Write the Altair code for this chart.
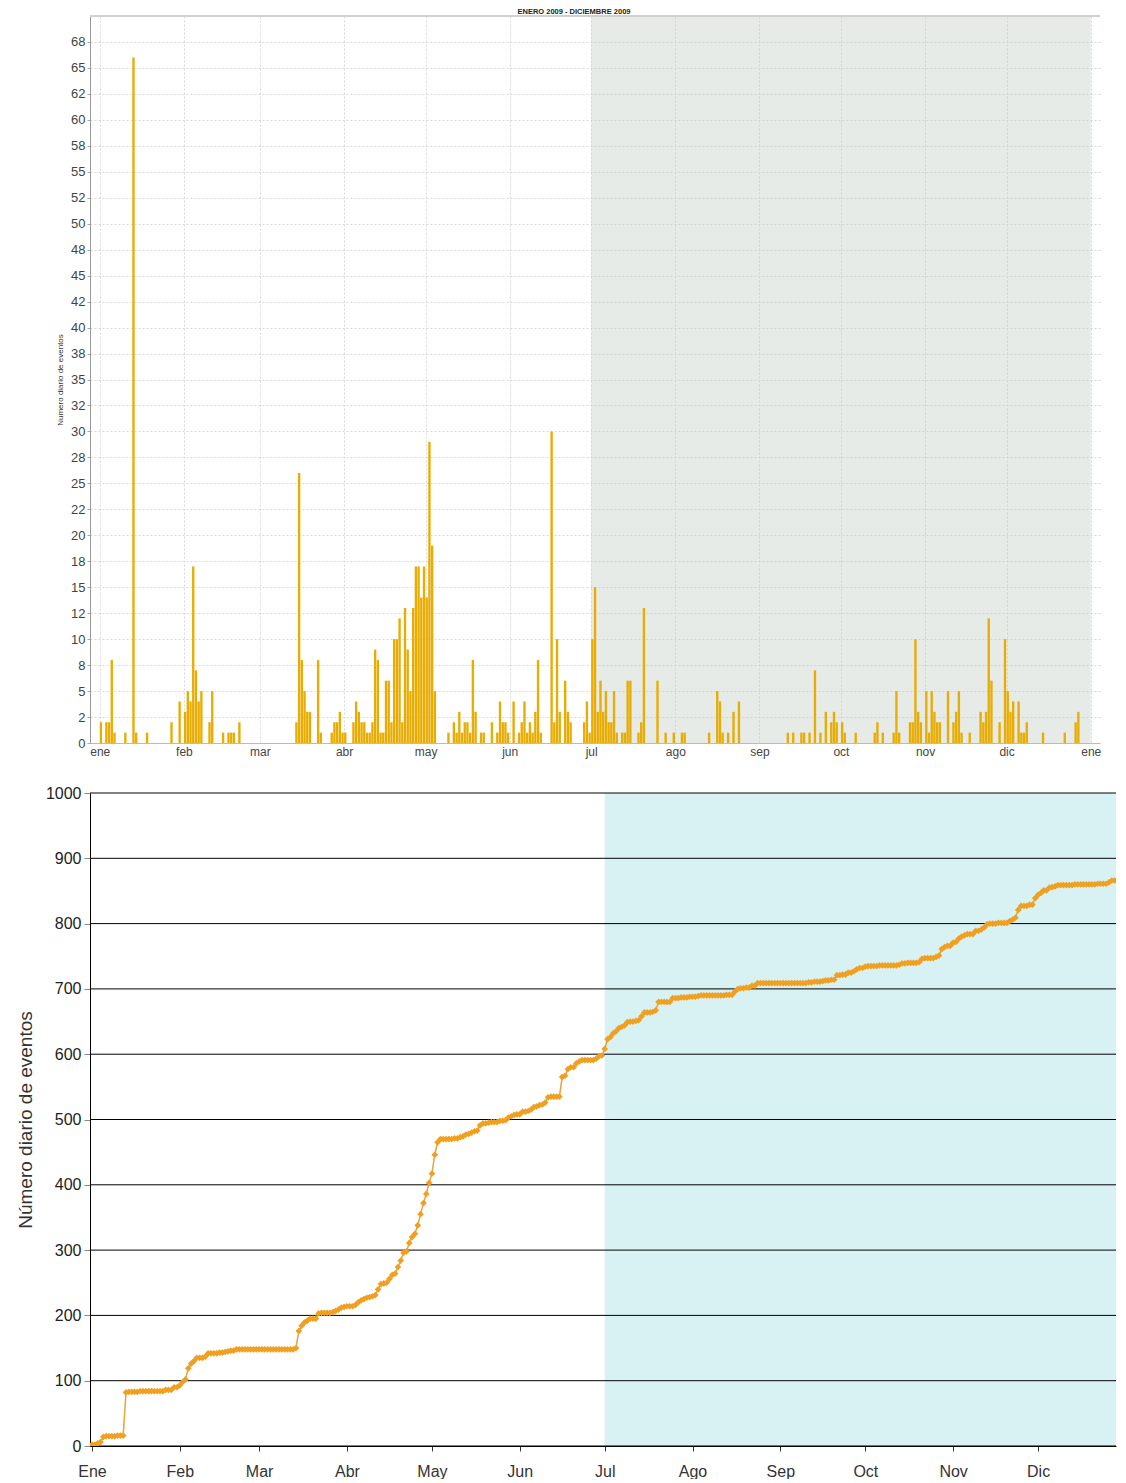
import altair as alt
import pandas as pd

# ---------------- data ----------------
event_dates = [
    "2009-01-01", "2009-01-03", "2009-01-04", "2009-01-05", "2009-01-06", "2009-01-10", "2009-01-13", "2009-01-14",
    "2009-01-18", "2009-01-27", "2009-01-30",
    "2009-02-01", "2009-02-02", "2009-02-03", "2009-02-04", "2009-02-05", "2009-02-06", "2009-02-07", "2009-02-10",
    "2009-02-11", "2009-02-15", "2009-02-17", "2009-02-18", "2009-02-19", "2009-02-21",
    "2009-03-14", "2009-03-15", "2009-03-16", "2009-03-17", "2009-03-18", "2009-03-19", "2009-03-22", "2009-03-23",
    "2009-03-27", "2009-03-28", "2009-03-29", "2009-03-30", "2009-03-31",
    "2009-04-01", "2009-04-04", "2009-04-05", "2009-04-06", "2009-04-07", "2009-04-08", "2009-04-09", "2009-04-10",
    "2009-04-11", "2009-04-12", "2009-04-13", "2009-04-14", "2009-04-15", "2009-04-16", "2009-04-17", "2009-04-18",
    "2009-04-19", "2009-04-20", "2009-04-21", "2009-04-22", "2009-04-23", "2009-04-24", "2009-04-25", "2009-04-26",
    "2009-04-27", "2009-04-28", "2009-04-29", "2009-04-30",
    "2009-05-01", "2009-05-02", "2009-05-03", "2009-05-04", "2009-05-09", "2009-05-11", "2009-05-12", "2009-05-13",
    "2009-05-14", "2009-05-15", "2009-05-16", "2009-05-17", "2009-05-18", "2009-05-19", "2009-05-21", "2009-05-22",
    "2009-05-25", "2009-05-27", "2009-05-28", "2009-05-29", "2009-05-30", "2009-05-31",
    "2009-06-02", "2009-06-04", "2009-06-05", "2009-06-06", "2009-06-07", "2009-06-08", "2009-06-09", "2009-06-10",
    "2009-06-11", "2009-06-12", "2009-06-16", "2009-06-17", "2009-06-18", "2009-06-19", "2009-06-21", "2009-06-22",
    "2009-06-23", "2009-06-28", "2009-06-29", "2009-06-30",
    "2009-07-01", "2009-07-02", "2009-07-03", "2009-07-04", "2009-07-05", "2009-07-06", "2009-07-07", "2009-07-08",
    "2009-07-09", "2009-07-10", "2009-07-12", "2009-07-13", "2009-07-14", "2009-07-15", "2009-07-18", "2009-07-19",
    "2009-07-20", "2009-07-25", "2009-07-28", "2009-07-31",
    "2009-08-03", "2009-08-04", "2009-08-13", "2009-08-16", "2009-08-17", "2009-08-18", "2009-08-20", "2009-08-22",
    "2009-08-24",
    "2009-09-11", "2009-09-13", "2009-09-16", "2009-09-17", "2009-09-19", "2009-09-21", "2009-09-23", "2009-09-25",
    "2009-09-27", "2009-09-28", "2009-09-29",
    "2009-10-01", "2009-10-02", "2009-10-06", "2009-10-13", "2009-10-14", "2009-10-16", "2009-10-20", "2009-10-21",
    "2009-10-22", "2009-10-26", "2009-10-27", "2009-10-28", "2009-10-29", "2009-10-30",
    "2009-11-01", "2009-11-02", "2009-11-03", "2009-11-04", "2009-11-05", "2009-11-06", "2009-11-09", "2009-11-11",
    "2009-11-12", "2009-11-13", "2009-11-14", "2009-11-17", "2009-11-21", "2009-11-22", "2009-11-23", "2009-11-24",
    "2009-11-25", "2009-11-28", "2009-11-30",
    "2009-12-01", "2009-12-02", "2009-12-03", "2009-12-05", "2009-12-06", "2009-12-07", "2009-12-08", "2009-12-14",
    "2009-12-22", "2009-12-26", "2009-12-27",
]
event_counts = [
    2, 2, 2, 8, 1, 1, 66, 1,
    1, 2, 4,
    3, 5, 4, 17, 7, 4, 5, 2,
    5, 1, 1, 1, 1, 2,
    2, 26, 8, 5, 3, 3, 8, 1,
    1, 2, 2, 3, 1,
    1, 2, 4, 3, 2, 2, 1, 1,
    2, 9, 8, 1, 1, 6, 6, 2,
    10, 10, 12, 2, 13, 9, 5, 13,
    17, 17, 14, 17,
    14, 29, 19, 5, 1, 2, 1, 3,
    1, 2, 2, 1, 8, 3, 1, 1,
    2, 1, 4, 2, 2, 1,
    4, 1, 2, 4, 1, 2, 1, 3,
    8, 1, 30, 2, 10, 3, 6, 3,
    2, 2, 4, 1,
    10, 15, 3, 6, 3, 5, 2, 2,
    5, 1, 1, 1, 6, 6, 1, 2,
    13, 6, 1, 1,
    1, 1, 1, 5, 4, 1, 1, 3,
    4,
    1, 1, 1, 1, 1, 7, 1, 3,
    2, 3, 2,
    2, 1, 1, 1, 2, 1, 1, 5,
    1, 2, 2, 10, 3, 2,
    5, 1, 5, 3, 2, 2, 5, 2,
    3, 5, 1, 1, 3, 2, 3, 12,
    6, 2, 10,
    5, 3, 4, 4, 1, 1, 2, 1,
    1, 2, 3,
]

month_labels_top = ["ene", "feb", "mar", "abr", "may", "jun", "jul", "ago", "sep", "oct", "nov", "dic"]
month_labels_bottom = ["Ene", "Feb", "Mar", "Abr", "May", "Jun", "Jul", "Ago", "Sep", "Oct", "Nov", "Dic"]
top_y_ticks = [0, 2.5, 5, 7.5, 10, 12.5, 15, 17.5, 20, 22.5, 25, 27.5, 30, 32.5, 35, 37.5, 40, 42.5, 45,
               47.5, 50, 52.5, 55, 57.5, 60, 62.5, 65, 67.5]
bottom_y_ticks = [0, 100, 200, 300, 400, 500, 600, 700, 800, 900, 1000]
shade_start = ["2009-07-01T00:00:00"]
shade_end = ["2010-01-01T00:00:00"]
title_text = ["ENERO 2009 - DICIEMBRE 2009"]
y_title = "Numero diario de eventos"
y_title_bottom = "Número diario de eventos"

FONT = "Arial"

# ---------------- tables ----------------
ev = pd.DataFrame({"d": pd.to_datetime(event_dates), "count": event_counts})
bars = ev.copy()
bars["start"] = bars["d"].dt.strftime("%Y-%m-%dT%H:%M:%S")
bars["end"] = (bars["d"] + pd.Timedelta(hours=21)).dt.strftime("%Y-%m-%dT%H:%M:%S")
bars = bars[["start", "end", "count"]]

days = pd.DataFrame({"d": pd.date_range("2009-01-01", "2009-12-31", freq="D")})
full = days.merge(ev, on="d", how="left").fillna({"count": 0})
full["date"] = full["d"].dt.strftime("%Y-%m-%dT%H:%M:%S")
full = full[["date", "count"]]

shade = pd.DataFrame({"s": shade_start, "e": shade_end})

# ---------------- top chart ----------------
W_TOP, H_TOP = 1010, 727
month_expr_top = "[" + ",".join("'%s'" % m for m in month_labels_top) + "][month(datum.value)]"
month_vals_top = [alt.DateTime(year=2009, month=m, date=1) for m in range(1, 13)] + [alt.DateTime(year=2010, month=1, date=1)]
x_scale_top = alt.Scale(domain=[alt.DateTime(year=2008, month=12, date=28, hours=10),
                                alt.DateTime(year=2010, month=1, date=4, hours=10)])

shade_top = alt.Chart(shade).mark_rect(color="#c9d3c9", opacity=0.45).encode(
    x=alt.X("s:T", scale=x_scale_top,
            axis=alt.Axis(values=month_vals_top, labelExpr=month_expr_top, title=None,
                          grid=True, gridDash=[2, 2], gridColor="#d8d8d8",
                          tickSize=0, labelPadding=3, labelFontSize=12, labelColor="#444",
                          labelFont=FONT, domainColor="#bbbbbb")),
    x2="e:T",
    y=alt.value(0), y2=alt.value(H_TOP),
)

bar_layer = alt.Chart(bars).mark_bar(color="#e8ad05", clip=True).encode(
    x=alt.X("start:T", scale=x_scale_top),
    x2="end:T",
    y=alt.Y("count:Q", scale=alt.Scale(domain=[0, 70], nice=False),
            axis=alt.Axis(values=top_y_ticks, title=y_title, titleFontSize=8, titleFontWeight="normal",
                          titleColor="#333", titleFont=FONT, titlePadding=6,
                          labelExpr="datum.value % 5 == 0 ? format(datum.value, 'd') : format(floor(datum.value) + (floor(datum.value) % 2), 'd')",
                          labelFontSize=13, labelColor="#444", labelFont=FONT, labelPadding=2,
                          tickSize=3, tickColor="#aaaaaa", domainColor="#999999",
                          grid=True, gridDash=[2, 2], gridColor="#d8d8d8")),
    y2=alt.datum(0),
)

top_border = alt.Chart(pd.DataFrame({"t": title_text})).mark_rule(color="#d0d0d0", strokeWidth=2).encode(
    x=alt.value(0), x2=alt.value(W_TOP), y=alt.value(0)
)
title_mark = alt.Chart(pd.DataFrame({"t": title_text})).mark_text(
    fontSize=7.5, fontWeight="bold", font=FONT, color="#222", baseline="bottom", align="center"
).encode(text="t:N", x=alt.value(484), y=alt.value(0))

top = alt.layer(shade_top, bar_layer, top_border, title_mark).properties(width=W_TOP, height=H_TOP)

# ---------------- bottom chart ----------------
W_BOT, H_BOT = 1026, 653
month_expr_bot = "[" + ",".join("'%s'" % m for m in month_labels_bottom) + "][month(datum.value)]"
month_vals_bot = [alt.DateTime(year=2009, month=m, date=1) for m in range(1, 13)]
x_scale_bot = alt.Scale(domain=[alt.DateTime(year=2008, month=12, date=31, hours=7),
                                alt.DateTime(year=2009, month=12, date=28, hours=12)])
y_scale_bot = alt.Scale(domain=[0, 1000], nice=False)

shade_bot = alt.Chart(shade).mark_rect(color="#d8f2f4", clip=True).encode(
    x=alt.X("s:T", scale=x_scale_bot,
            axis=alt.Axis(values=month_vals_bot, labelExpr=month_expr_bot, title=None, grid=False,
                          tickSize=5, tickColor="#333", labelPadding=12, labelFontSize=16,
                          labelColor="#333", labelFont=FONT, domainColor="#000", domainWidth=1)),
    x2="e:T",
    y=alt.value(0), y2=alt.value(H_BOT),
)

grid_bot = alt.Chart(pd.DataFrame({"v": bottom_y_ticks})).mark_rule(color="#000", strokeWidth=1).encode(
    y=alt.Y("v:Q", scale=y_scale_bot,
            axis=alt.Axis(values=bottom_y_ticks, format="d", title=y_title_bottom, titleFontSize=19,
                          titleFontWeight="normal", titleColor="#333", titleFont=FONT, titlePadding=10,
                          labelFontSize=16, labelColor="#222", labelFont=FONT, labelPadding=3,
                          tickSize=6, tickColor="#888", domainColor="#000", grid=False)),
    x=alt.value(0), x2=alt.value(W_BOT),
)

cum_line = alt.Chart(full).transform_window(
    cum="sum(count)", sort=[alt.SortField("date")], frame=[None, 0]
).mark_line(
    color="#e8a33c", strokeWidth=1.5, clip=True,
    point=alt.OverlayMarkDef(shape="diamond", size=45, filled=True, color="#f0a020", clip=True),
).encode(
    x=alt.X("date:T", scale=x_scale_bot),
    y=alt.Y("cum:Q", scale=y_scale_bot),
)

bottom = alt.layer(shade_bot, grid_bot, cum_line).properties(width=W_BOT, height=H_BOT)

chart = alt.vconcat(top, bottom, spacing=28).properties(
    padding={"left": 8, "top": 0, "right": 0, "bottom": 0}
).configure_view(stroke=None).configure_axis(labelFont=FONT, titleFont=FONT)

chart.save("out.html", embed_options={"renderer": "svg", "actions": False})
